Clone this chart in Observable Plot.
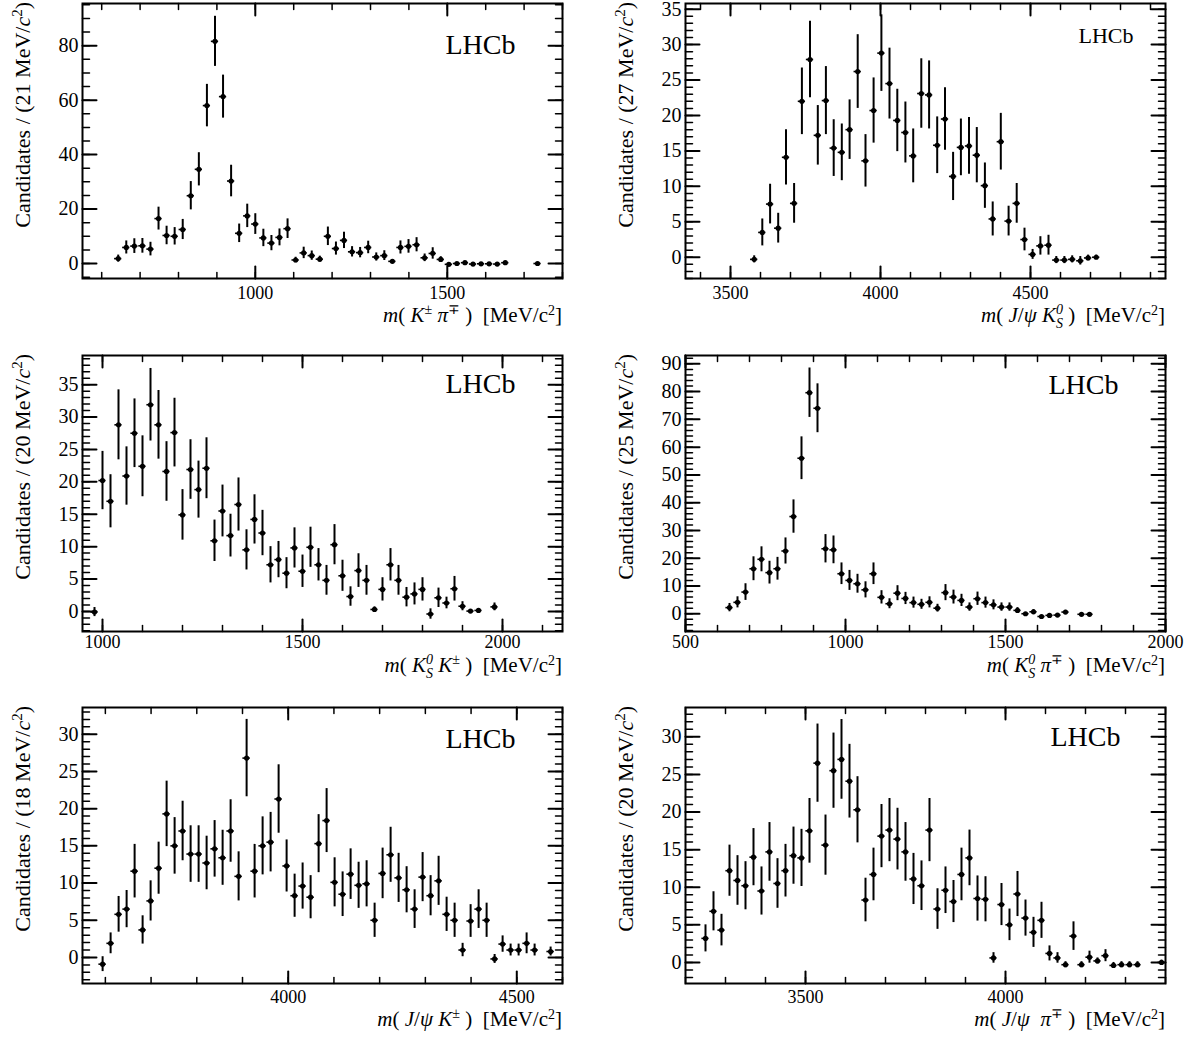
<!DOCTYPE html>
<html><head><meta charset="utf-8">
<script src="https://cdn.jsdelivr.net/npm/d3@7"></script>
<script src="https://cdn.jsdelivr.net/npm/@observablehq/plot@0.6"></script>
<style>
body{margin:0;background:#fff;}
#root{position:relative;width:1202px;height:1037px;background:#fff;overflow:hidden;}
#root svg{position:absolute;overflow:visible;}
</style></head><body><div id="root"></div>
<script>
// ---------- Panel 1: m(K± π∓), 21 MeV bins ----------
const kpiX = [643,664,685,706,727,748,769,790,811,832,853,874,895,916,937,958,979,1000,1021,1042,1063,1084,1105,1126,1147,1168,1189,1210,1231,1252,1273,1294,1315,1336,1357,1378,1399,1420,1441,1462,1483,1504,1525,1546,1567,1588,1609,1630,1651,1735];
const kpiY = [1.8,5.9,6.4,6.5,5.3,16.5,10.3,10.0,12.5,24.9,34.6,58.0,81.6,61.3,30.3,11.1,17.5,14.5,9.4,7.5,9.6,12.8,1.3,3.9,2.9,1.6,10.0,5.5,8.5,4.3,4.0,5.9,2.4,2.9,0.8,5.9,6.3,6.9,2.1,3.7,1.5,-0.3,0.0,0.3,-0.2,-0.1,-0.1,-0.2,0.3,0.0];
const kpiE = [1.3,2.4,2.7,2.7,2.5,4.2,3.4,3.2,3.7,5.2,6.1,7.8,9.2,7.9,5.8,3.4,4.3,3.8,3.2,2.8,3.1,3.6,1.0,2.1,1.7,1.1,3.4,2.4,3.0,1.9,1.9,2.3,1.5,1.8,0.6,2.4,2.5,2.6,1.4,2.1,1.0,0.3,0.3,0.3,0.3,0.3,0.3,0.3,0.4,0.3];
const kpiXTicks = [1000,1500];
const kpiYTicks = [0,20,40,60,80];

// ---------- Panel 2: m(J/ψ K0S), 27 MeV bins ----------
const jksX = [3579,3606,3632,3659,3685,3712,3738,3765,3791,3818,3844,3871,3897,3924,3950,3977,4003,4030,4056,4083,4109,4136,4162,4189,4215,4242,4268,4295,4321,4348,4374,4401,4427,4454,4480,4507,4533,4560,4586,4613,4639,4666,4692,4719];
const jksY = [-0.3,3.5,7.5,4.1,14.1,7.6,22.0,27.9,17.2,22.1,15.4,14.8,18.0,26.2,13.6,20.7,28.8,24.5,19.3,17.6,14.3,23.1,22.9,15.8,19.5,11.4,15.5,15.7,14.4,10.1,5.4,16.3,5.1,7.6,2.5,0.4,1.6,1.7,-0.4,-0.4,-0.3,-0.5,-0.1,0.0];
const jksE = [0.5,1.9,2.8,2.1,3.9,2.8,4.7,5.4,4.2,4.8,4.0,4.0,4.2,5.2,3.7,4.6,5.4,5.0,4.4,4.3,3.8,4.9,4.8,4.0,4.4,3.4,4.0,4.0,3.9,3.2,2.4,4.0,2.1,2.8,1.6,0.7,1.3,1.4,0.5,0.5,0.5,0.6,0.4,0.3];
const jksXTicks = [3500,4000,4500];
const jksYTicks = [0,5,10,15,20,25,30,35];

// ---------- Panel 3: m(K0S K±), 20 MeV bins ----------
const kskX = [980,1000,1020,1040,1060,1080,1100,1120,1140,1160,1180,1200,1220,1240,1260,1280,1300,1320,1340,1360,1380,1400,1420,1440,1460,1480,1500,1520,1540,1560,1580,1600,1620,1640,1660,1680,1700,1720,1740,1760,1780,1800,1820,1840,1860,1880,1900,1920,1940,1980];
const kskY = [-0.1,20.2,17.0,28.8,20.9,27.5,22.4,31.9,28.8,21.6,27.6,14.9,21.9,18.8,22.1,10.9,15.5,11.7,16.5,9.5,14.2,12.1,7.2,8.0,5.9,9.8,6.2,9.9,7.2,4.8,10.3,5.5,2.3,6.3,4.8,0.3,3.4,7.2,4.8,2.2,2.7,3.4,-0.4,2.1,1.3,3.5,0.8,0.05,0.15,0.7];
const kskE = [0.7,4.5,4.1,5.4,4.5,5.3,4.7,5.6,5.3,4.6,5.3,3.9,4.6,4.4,4.7,3.2,4.0,3.3,4.1,3.1,3.8,3.5,2.8,2.8,2.4,3.1,2.5,3.1,2.5,2.3,3.1,2.4,1.5,2.6,2.3,0.4,1.8,2.5,2.3,1.5,1.7,1.8,0.8,1.5,0.9,1.9,0.7,0.2,0.2,0.6];
const kskXTicks = [1000,1500,2000];
const kskYTicks = [0,5,10,15,20,25,30,35];

// ---------- Panel 4: m(K0S π∓), 25 MeV bins ----------
const kspX = [637.5,662.5,687.5,712.5,737.5,762.5,787.5,812.5,837.5,862.5,887.5,912.5,937.5,962.5,987.5,1012.5,1037.5,1062.5,1087.5,1112.5,1137.5,1162.5,1187.5,1212.5,1237.5,1262.5,1287.5,1312.5,1337.5,1362.5,1387.5,1412.5,1437.5,1462.5,1487.5,1512.5,1537.5,1562.5,1587.5,1612.5,1637.5,1662.5,1687.5,1737.5,1762.5];
const kspY = [2.2,4.1,7.8,16.2,19.6,14.8,16.2,22.6,35.0,56.0,79.6,74.0,23.4,23.0,14.4,12.0,10.8,8.6,14.4,5.9,3.6,7.4,5.5,4.0,3.4,4.1,2.0,7.6,6.0,4.8,2.4,5.4,4.0,3.2,2.4,2.4,1.2,0.0,0.7,-1.0,-0.6,-0.5,0.6,-0.2,-0.2];
const kspE = [1.5,2.0,3.0,4.3,4.5,4.1,4.1,4.7,6.0,7.7,8.9,8.8,5.1,5.0,3.9,3.6,3.4,2.9,3.9,2.4,1.8,2.7,2.2,2.0,1.8,2.0,1.4,2.9,2.5,2.2,1.5,2.4,2.0,1.8,1.5,1.5,1.0,0.4,0.8,0.4,0.5,0.5,0.6,0.4,0.4];
const kspXTicks = [500,1000,1500,2000];
const kspYTicks = [0,10,20,30,40,50,60,70,80,90];

// ---------- Panel 5: m(J/ψ K±), 18 MeV bins ----------
const jkX = [3594,3611.5,3629,3646.5,3664,3681.5,3699,3716.5,3734,3751.5,3769,3786.5,3804,3821.5,3839,3856.5,3874,3891.5,3909,3926.5,3944,3961.5,3979,3996.5,4014,4031.5,4049,4066.5,4084,4101.5,4119,4136.5,4154,4171.5,4189,4206.5,4224,4241.5,4259,4276.5,4294,4311.5,4329,4346.5,4364,4381.5,4399,4416.5,4434,4451.5,4469,4486.5,4504,4521.5,4539,4574];
const jkY = [-0.9,1.9,5.8,6.5,11.6,3.7,7.6,12.0,19.3,15.0,17.0,13.9,13.9,12.7,14.6,13.4,17.0,10.9,26.8,11.6,15.0,15.5,21.3,12.3,8.3,9.6,8.1,15.3,18.4,10.1,8.5,11.2,9.7,9.9,5.0,11.3,13.8,10.7,9.1,6.5,10.8,8.3,10.3,5.8,5.0,1.0,4.9,6.5,5.0,-0.2,1.8,1.0,1.0,1.9,1.0,0.8];
const jkE = [1.0,1.4,2.4,2.5,3.6,1.9,2.7,3.5,4.4,3.8,4.0,3.8,3.8,3.6,3.8,3.7,4.2,3.3,5.2,3.6,3.9,4.0,4.6,3.5,2.9,3.1,2.9,3.9,4.3,3.3,3.0,3.4,3.1,3.1,2.3,3.4,3.7,3.3,3.1,2.6,3.3,2.7,3.3,2.3,2.3,0.9,2.2,2.6,2.3,0.6,1.1,0.8,0.8,1.4,0.8,0.6];
const jkXTicks = [4000,4500];
const jkYTicks = [0,5,10,15,20,25,30];

// ---------- Panel 6: m(J/ψ π∓), 20 MeV bins ----------
const jpX = [3250,3270,3290,3310,3330,3350,3370,3390,3410,3430,3450,3470,3490,3510,3530,3550,3570,3590,3610,3630,3650,3670,3690,3710,3730,3750,3770,3790,3810,3830,3850,3870,3890,3910,3930,3950,3970,3990,4010,4030,4050,4070,4090,4110,4130,4150,4170,4190,4210,4230,4250,4270,4290,4310,4330,4390];
const jpY = [3.2,6.8,4.3,12.2,10.9,10.2,14.0,9.5,14.7,10.5,12.2,14.2,13.9,17.5,26.5,15.6,25.5,27.0,24.1,20.3,8.3,11.7,16.8,17.6,16.4,14.7,11.1,10.2,17.6,7.1,9.6,8.1,11.7,13.9,8.5,8.4,0.6,7.7,5.0,9.1,5.9,4.0,5.6,1.2,0.6,-0.3,3.5,-0.3,0.7,0.2,0.9,-0.4,-0.3,-0.3,-0.3,0.0];
const jpE = [1.8,2.6,2.1,3.4,3.3,3.2,3.8,3.2,3.9,3.3,3.5,3.8,3.8,4.3,5.2,4.0,5.0,5.3,4.9,4.4,2.9,3.5,4.2,4.2,4.1,3.9,3.4,3.3,4.2,2.7,3.1,2.8,3.5,3.7,3.0,3.0,0.7,2.8,2.1,3.0,2.4,2.0,2.4,1.0,0.7,0.4,1.9,0.4,0.8,0.4,0.8,0.4,0.4,0.4,0.4,0.3];
const jpXTicks = [3500,4000];
const jpYTicks = [0,5,10,15,20,25,30];

// ---------- drawing ----------
const FONT = "'Liberation Serif','Times New Roman',serif";
const it = s => `<tspan font-style="italic">${s}</tspan>`;
const SUP = (s, rest) => `<tspan dy="-8" font-size="14">${s}</tspan><tspan dy="8">${rest}</tspan>`;
const K0S = (rest) => `${it("K")}<tspan dy="-8" font-size="14" font-style="italic">0</tspan><tspan dx="-7" dy="14" font-size="14" font-style="italic">S</tspan><tspan dy="-6">${rest}</tspan>`;
const UNIT = `[MeV/c<tspan dy="-7" font-size="14">2</tspan><tspan dy="7">]</tspan>`;
const yTitle = w => `Candidates / (${w} MeV/${it("c")}<tspan dy="-8" font-size="15">2</tspan><tspan dy="8">)</tspan>`;

const titles = [
  `${it("m")}( ${it("K")}${SUP("±", " ")}${it("π")}${SUP("∓", " )  ")}${UNIT}`,
  `${it("m")}( ${it("J")}/${it("ψ")} ${K0S(" )  ")}${UNIT}`,
  `${it("m")}( ${K0S(" ")}${it("K")}${SUP("±", " )  ")}${UNIT}`,
  `${it("m")}( ${K0S(" ")}${it("π")}${SUP("∓", " )  ")}${UNIT}`,
  `${it("m")}( ${it("J")}/${it("ψ")} ${it("K")}${SUP("±", " )  ")}${UNIT}`,
  `${it("m")}( ${it("J")}/${it("ψ")}  ${it("π")}${SUP("∓", " )  ")}${UNIT}`
];

const panels = [
  {x:kpiX,y:kpiY,e:kpiE,bin:21,xd:[550,1800],yd:[-5.5,95.5],xt:kpiXTicks,yt:kpiYTicks,xm:100,ym:5,left:0,top:0,h:345,ml:82,mr:39,mt:3,mb:67,lhcb:[28,-47,50],xTitleY:322,pad:8},
  {x:jksX,y:jksY,e:jksE,bin:27,xd:[3350,4950],yd:[-3,35.8],xt:jksXTicks,yt:jksYTicks,xm:100,ym:1,left:601,top:0,h:345,ml:84,mr:37,mt:3,mb:67,lhcb:[22,-32,39],xTitleY:322,pad:8},
  {x:kskX,y:kskY,e:kskE,bin:20,xd:[950,2150],yd:[-3.1,39.5],xt:kskXTicks,yt:kskYTicks,xm:100,ym:1,left:0,top:345,h:345,ml:82,mr:39,mt:10,mb:59,lhcb:[28,-47,37],xTitleY:327,pad:4},
  {x:kspX,y:kspY,e:kspE,bin:25,xd:[500,2000],yd:[-6.4,93],xt:kspXTicks,yt:kspYTicks,xm:100,ym:2,left:601,top:345,h:345,ml:84,mr:37,mt:10,mb:59,lhcb:[28,-47,38],xTitleY:327,pad:4},
  {x:jkX,y:jkY,e:jkE,bin:18,xd:[3550,4600],yd:[-3.5,33.6],xt:jkXTicks,yt:jkYTicks,xm:100,ym:1,left:0,top:690,h:347,ml:82,mr:39,mt:17,mb:54,lhcb:[28,-47,40],xTitleY:336,pad:7},
  {x:jpX,y:jpY,e:jpE,bin:20,xd:[3200,4400],yd:[-2.8,33.9],xt:jpXTicks,yt:jpYTicks,xm:100,ym:1,left:601,top:690,h:347,ml:84,mr:37,mt:17,mb:54,lhcb:[28,-45,38],xTitleY:336,pad:7}
];

const lineShape = {draw(ctx, l) { ctx.moveTo(0, 0); ctx.lineTo(0, -l); }};
function minorTicks(dom, step) {
  const out = [];
  for (let v = Math.ceil(dom[0] / step) * step; v <= dom[1] + 1e-9; v += step) out.push(+v.toFixed(6));
  return out;
}

const root = document.getElementById("root");
panels.forEach((p, idx) => {
  const rows = p.x.map((x, i) => ({x, y: p.y[i], e: p.e[i]}));
  const hw = p.bin / 2 * 0.9;
  const xMin = minorTicks(p.xd, p.xm), yMin = minorTicks(p.yd, p.ym);
  const tk = (data, ch, anchor, len, rot, sw) => Plot.vector(data, {[ch]: d => d, frameAnchor: anchor, length: len, rotate: rot, anchor: "start", shape: lineShape, stroke: "black", strokeWidth: sw});
  const svg = Plot.plot({
    width: 601, height: p.h,
    marginLeft: p.ml, marginRight: p.mr, marginTop: p.mt, marginBottom: p.mb,
    x: {domain: p.xd, axis: null, label: null},
    y: {domain: p.yd, axis: null, label: null},
    style: {fontFamily: FONT, background: "white", color: "black"},
    marks: [
      Plot.ruleX(rows, {x: "x", y1: d => d.y - d.e, y2: d => d.y + d.e, stroke: "black", strokeWidth: 2}),
      Plot.ruleY(rows, {y: "y", x1: d => d.x - hw, x2: d => d.x + hw, stroke: "black", strokeWidth: 1.6}),
      Plot.dot(rows, {x: "x", y: "y", r: 2.6, fill: "black"}),
      tk(xMin, "x", "bottom", 6, 0, 1.5),
      tk(p.xt, "x", "bottom", 12, 0, 2),
      tk(xMin, "x", "top", 6, 180, 1.5),
      tk(p.xt, "x", "top", 12, 180, 2),
      tk(yMin, "y", "left", 7, 90, 1.5),
      tk(p.yt, "y", "left", 14, 90, 2),
      tk(yMin, "y", "right", 7, -90, 1.5),
      tk(p.yt, "y", "right", 14, -90, 2),
      Plot.axisX(p.xt, {anchor: "bottom", tickSize: 0, tickPadding: p.pad, fontSize: 18, label: null, tickFormat: d => String(d)}),
      Plot.axisY(p.yt, {anchor: "left", tickSize: 0, tickPadding: 4, fontSize: 20, label: null, tickFormat: d => String(d)}),
      Plot.frame({stroke: "black", strokeWidth: 2}),
      Plot.text(["LHCb"], {text: d => d, frameAnchor: "top-right", textAnchor: "end", lineAnchor: "bottom", dx: p.lhcb[1], dy: p.lhcb[2], fontSize: p.lhcb[0], fontFamily: FONT, fill: "black"})
    ]
  });
  svg.style.left = p.left + "px";
  svg.style.top = p.top + "px";
  const s = d3.select(svg);
  s.append("text")
    .attr("transform", `translate(${p.ml - 52},${p.mt - 1}) rotate(-90)`)
    .attr("text-anchor", "end").attr("font-size", 22).attr("font-family", FONT)
    .attr("fill", "black").style("white-space", "pre")
    .html(yTitle(p.bin));
  s.append("text")
    .attr("x", 601 - p.mr).attr("y", p.xTitleY)
    .attr("text-anchor", "end").attr("font-size", 21).attr("font-family", FONT)
    .attr("fill", "black").style("white-space", "pre")
    .html(titles[idx]);
  root.appendChild(svg);
});
</script>
</body></html>
